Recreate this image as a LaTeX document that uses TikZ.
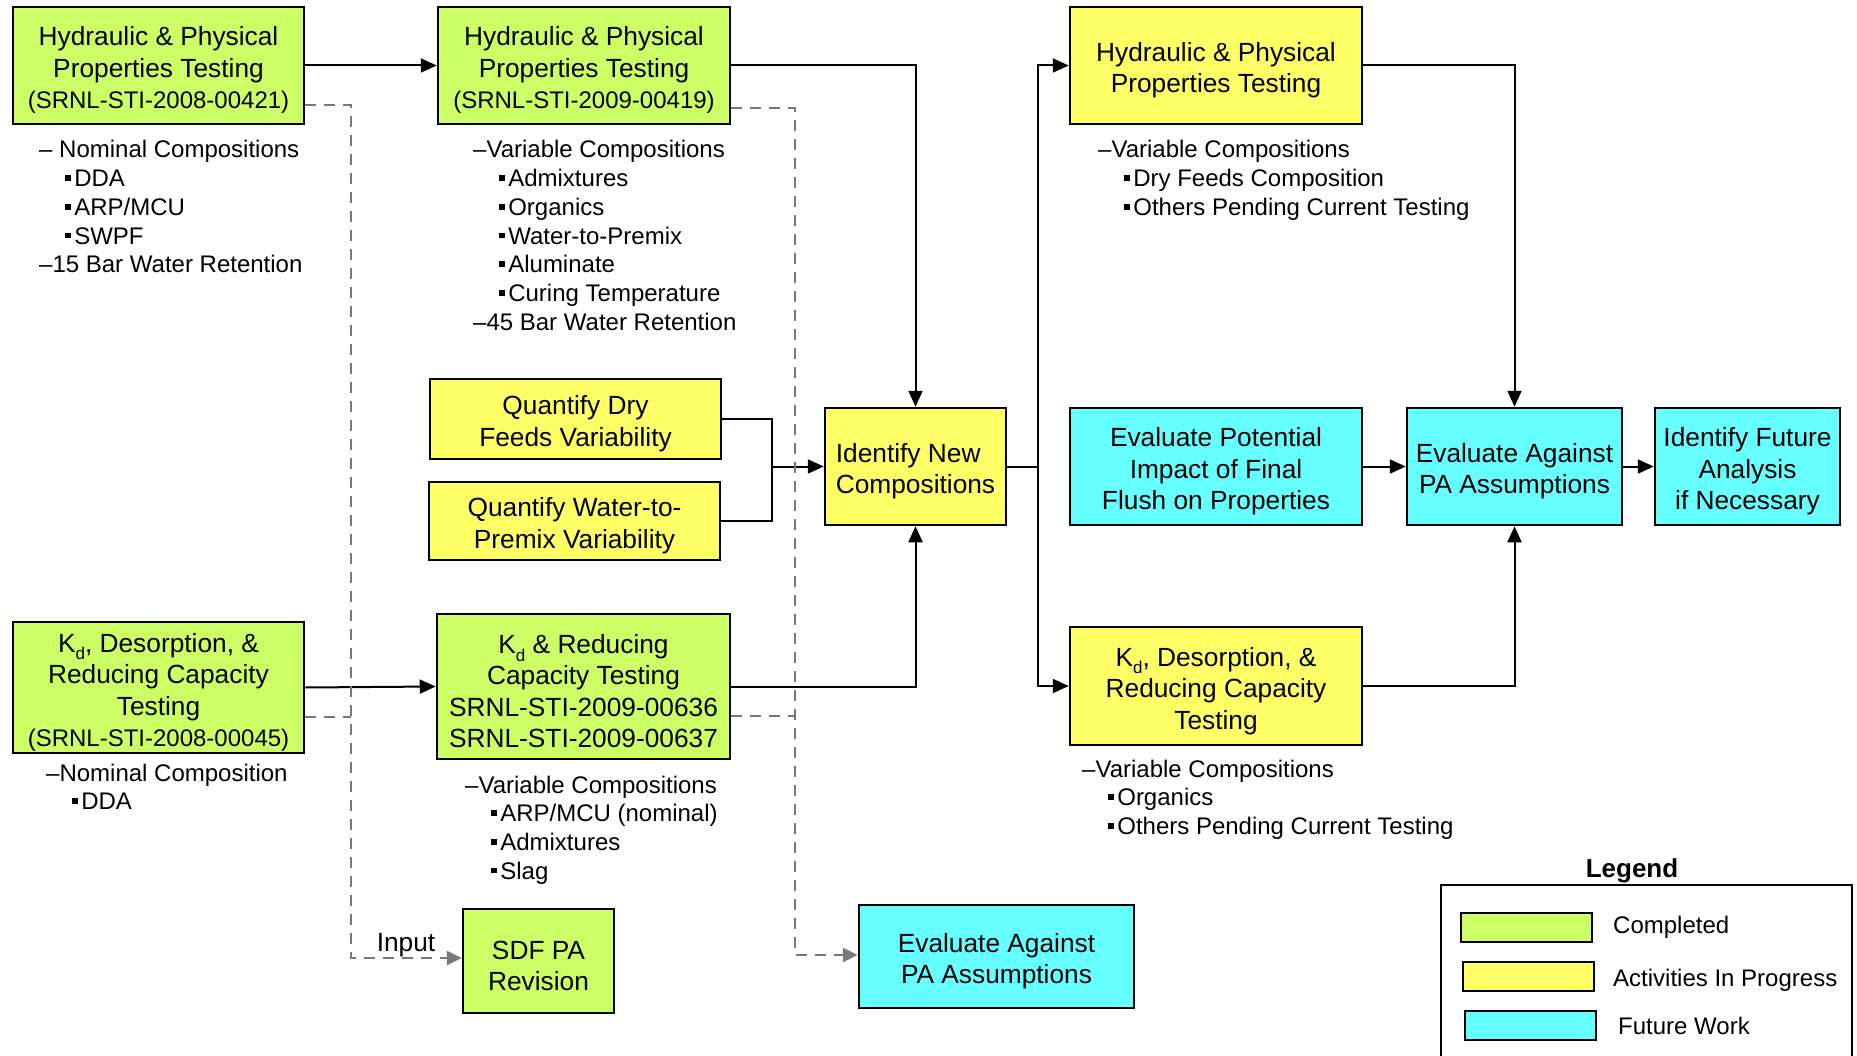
\documentclass[tikz,border=0pt]{standalone}
\usepackage{fontspec}
\setmainfont{Liberation Sans}
\usetikzlibrary{arrows.meta}
\definecolor{donegreen}{RGB}{204,255,102}
\definecolor{progyellow}{RGB}{255,255,102}
\definecolor{futcyan}{RGB}{102,255,255}
\definecolor{dashgray}{RGB}{120,120,120}
\newcommand\boxfont{\fontsize{26.3}{31.5}\selectfont}
\newcommand\reffont{\fontsize{24}{31.5}\selectfont}
\newcommand\listfont{\fontsize{24}{28.7}\selectfont}
\newcommand\kdsub{\raisebox{-0.3em}{\fontsize{17}{17}\selectfont d}}
\newcommand\sqbul{\rule[0.24em]{0.24em}{0.24em}\hspace{0.14em}}
\newcommand\listindent{\hspace*{26pt}}
% taller first line, so the lines sit a little lower in their boxes
\newcommand\ts{\rule{0pt}{28.5pt}}
\begin{document}
\begin{tikzpicture}[x=1pt,y=-1pt,
  box/.style={draw, line width=2.5pt, align=center, inner sep=1pt, font=\boxfont},
  done/.style={box, fill=donegreen},
  prog/.style={box, fill=progyellow},
  fut/.style={box, fill=futcyan},
  listtext/.style={anchor=base west, inner sep=0pt, font=\listfont},
  conn/.style={line width=2pt},
  arr/.style={conn, -{Triangle[length=16pt,width=14pt]}},
  dashln/.style={line width=2.7pt, draw=dashgray, dash pattern=on 11pt off 8pt},
  dasharr/.style={dashln, -{Triangle[length=15pt,width=14pt,fill=dashgray]}},
  swatch/.style={draw, line width=2pt, minimum width=131pt, minimum height=29pt, inner sep=0pt},
  legtext/.style={anchor=base west, inner sep=0pt, font=\fontsize{24}{28}\selectfont}]
\useasboundingbox (0,0) rectangle (1857,1056);
\clip (0,0) rectangle (1857,1056);
\fill[white] (0,0) rectangle (1857,1056);

% ---- process boxes ----
\node[done, minimum width=291pt, minimum height=117pt] (a1) at (158.5,65.5)
  {\ts Hydraulic \& Physical\\Properties Testing\\{\reffont (SRNL-STI-2008-00421)}};
\node[done, minimum width=292pt, minimum height=117pt] (a2) at (584,65.5)
  {\ts Hydraulic \& Physical\\Properties Testing\\{\reffont (SRNL-STI-2009-00419)}};
\node[prog, minimum width=292pt, minimum height=117pt] (a3) at (1216,65.5)
  {\ts Hydraulic \& Physical\\Properties Testing};
\node[prog, minimum width=291pt, minimum height=80pt] (q1) at (575.5,419)
  {\ts Quantify Dry\\Feeds Variability};
\node[prog, minimum width=291pt, minimum height=78pt] (q2) at (574.5,521)
  {\ts Quantify Water-to-\\Premix Variability};
\node[prog, align=left, minimum width=181pt, minimum height=117pt] (inc) at (915.5,466.5)
  {\ts Identify New\\Compositions};
\node[fut, minimum width=292pt, minimum height=117pt] (epi) at (1216,466.5)
  {\ts Evaluate Potential\\Impact of Final\\Flush on Properties};
\node[fut, minimum width=215pt, minimum height=117pt] (eap) at (1514.5,466.5)
  {\ts Evaluate Against\\PA Assumptions};
\node[fut, minimum width=185pt, minimum height=117pt] (ifa) at (1747.5,466.5)
  {\ts Identify Future\\Analysis\\if Necessary};
\node[done, minimum width=291pt, minimum height=131pt] (k1) at (158.5,687.5)
  {\ts K\kdsub, Desorption, \&\\Reducing Capacity\\Testing\\{\reffont (SRNL-STI-2008-00045)}};
\node[done, minimum width=293pt, minimum height=145pt] (k2) at (583.5,686.5)
  {\ts K\kdsub\ \& Reducing\\Capacity Testing\\SRNL-STI-2009-00636\\SRNL-STI-2009-00637};
\node[prog, minimum width=292pt, minimum height=118pt] (k3) at (1216,686)
  {\ts K\kdsub, Desorption, \&\\Reducing Capacity\\Testing};
\node[done, minimum width=151pt, minimum height=104pt] (sdf) at (538.5,961)
  {\ts SDF PA\\Revision};
\node[fut, minimum width=275pt, minimum height=103pt] (eap2) at (996.5,956.5)
  {\ts Evaluate Against\\PA Assumptions};

% ---- notes under the boxes ----
\node[listtext] (la1) at (39,158) {\begin{tabular}[t]{@{}l@{}}
  – Nominal Compositions\\
  \listindent\sqbul DDA\\
  \listindent\sqbul ARP/MCU\\
  \listindent\sqbul SWPF\\
  –15 Bar Water Retention\end{tabular}};
\node[listtext] (la2) at (473,158) {\begin{tabular}[t]{@{}l@{}}
  –Variable Compositions\\
  \listindent\sqbul Admixtures\\
  \listindent\sqbul Organics\\
  \listindent\sqbul Water-to-Premix\\
  \listindent\sqbul Aluminate\\
  \listindent\sqbul Curing Temperature\\
  –45 Bar Water Retention\end{tabular}};
\node[listtext] (la3) at (1098,158) {\begin{tabular}[t]{@{}l@{}}
  –Variable Compositions\\
  \listindent\sqbul Dry Feeds Composition\\
  \listindent\sqbul Others Pending Current Testing\end{tabular}};
\node[listtext] (lk1) at (46,781) {\begin{tabular}[t]{@{}l@{}}
  –Nominal Composition\\
  \listindent\sqbul DDA\end{tabular}};
\node[listtext] (lk2) at (465,793) {\begin{tabular}[t]{@{}l@{}}
  –Variable Compositions\\
  \listindent\sqbul ARP/MCU (nominal)\\
  \listindent\sqbul Admixtures\\
  \listindent\sqbul Slag\end{tabular}};
\node[listtext] (lk3) at (1082,777) {\begin{tabular}[t]{@{}l@{}}
  –Variable Compositions\\
  \listindent\sqbul Organics\\
  \listindent\sqbul Others Pending Current Testing\end{tabular}};

% ---- solid flow ----
\draw[arr] (a1) -- (a2);
\draw[arr] (a2.east) -| (inc.north);
\coordinate (jq) at (772,466.5);
\draw[conn] (q1.east) -| (jq) |- (q2.east);
\draw[arr] (jq) -- (inc.west);
\draw[arr] (k1.east) -- (k2.west);
\draw[arr] (k2.east) -| (inc.south);
\coordinate (js) at (1038,466.5);
\draw[conn] (inc.east) -- (js);
\draw[arr] (js) |- (a3.west);
\draw[arr] (js) |- (k3.west);
\draw[arr] (a3.east) -| (eap.north);
\draw[arr] (k3.east) -| (eap.south);
\draw[arr] (epi) -- (eap);
\draw[arr] (eap) -- (ifa);

% ---- dashed feeds into the PA boxes ----
\coordinate (dv1) at (351,0);
\coordinate (dv2) at (795,0);
\path ([yshift=-39.5pt]a1.east) coordinate (a1d)
      ([yshift=-29.5pt]k1.east) coordinate (k1d)
      ([yshift=-42.5pt]a2.east) coordinate (a2d)
      ([yshift=-29.5pt]k2.east) coordinate (k2d)
      ([yshift=3pt]sdf.west) coordinate (sdfin)
      ([yshift=1.5pt]eap2.west) coordinate (eapin);
\draw[dasharr] (a1d) -| (dv1 |- sdfin) -- (sdfin);
\draw[dashln] (k1d) -- (k1d -| dv1);
\draw[dasharr] (a2d) -| (dv2 |- eapin) -- (eapin);
\draw[dashln] (k2d) -- (k2d -| dv2);
\node[font=\boxfont, inner sep=0pt] (inputlbl) at (406,945) {Input};

% ---- legend ----
\node[font=\bfseries\fontsize{26}{30}\selectfont, anchor=base, inner sep=0pt] (legtitle) at (1632,877) {Legend};
\node[draw, line width=2.5pt, minimum width=411pt, minimum height=195pt, inner sep=0pt] (legframe) at (1646.5,982.5) {};
\node[swatch, fill=donegreen] (swdone) at (1526.5,927.5) {};
\node[swatch, fill=progyellow] (swprog) at (1528.5,976.5) {};
\node[swatch, fill=futcyan] (swfut) at (1530.5,1025.5) {};
\node[legtext] (ltdone) at (1613,933) {Completed};
\node[legtext] (ltprog) at (1613,986) {Activities In Progress};
\node[legtext] (ltfut) at (1618,1034) {Future Work};
\end{tikzpicture}
\end{document}
